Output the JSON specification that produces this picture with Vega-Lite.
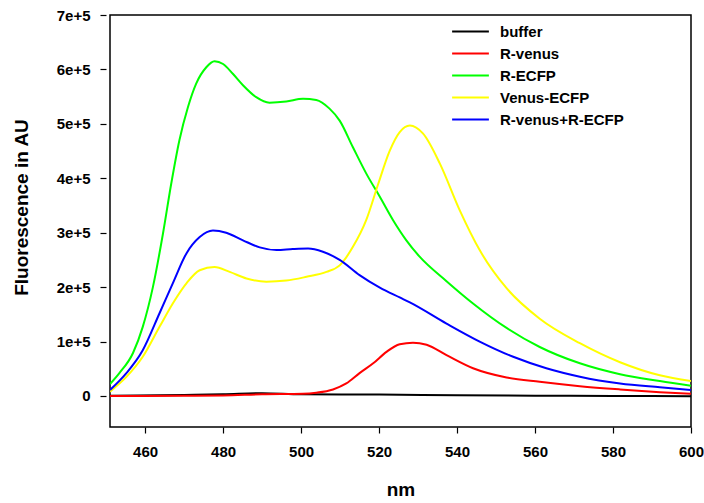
{
  "$schema": "https://vega.github.io/schema/vega-lite/v6.json",
  "width": 581,
  "height": 412,
  "autosize": {"type": "none"},
  "padding": {"left": 110, "top": 15, "right": 13, "bottom": 76},
  "background": "white",
  "config": {
    "font": "Liberation Sans",
    "view": {"stroke": "black", "strokeWidth": 1.5},
    "axis": {
      "grid": false,
      "domain": false,
      "tickColor": "black",
      "tickWidth": 1.2,
      "tickSize": 6,
      "labelColor": "black",
      "labelFont": "Liberation Sans",
      "labelFontWeight": "bold",
      "labelFontSize": 15,
      "titleColor": "black",
      "titleFont": "Liberation Sans",
      "titleFontWeight": "bold",
      "titleFontSize": 19
    },
    "legend": {
      "labelFont": "Liberation Sans",
      "labelFontWeight": "bold",
      "labelFontSize": 15,
      "labelColor": "black"
    }
  },
  "data": {
    "values": [
      {"series": "buffer", "nm": 451, "v": 500},
      {"series": "buffer", "nm": 470, "v": 2000},
      {"series": "buffer", "nm": 480, "v": 3000},
      {"series": "buffer", "nm": 490, "v": 5000},
      {"series": "buffer", "nm": 500, "v": 3000},
      {"series": "buffer", "nm": 520, "v": 2500},
      {"series": "buffer", "nm": 540, "v": 1500},
      {"series": "buffer", "nm": 560, "v": 500},
      {"series": "buffer", "nm": 580, "v": 0},
      {"series": "buffer", "nm": 600, "v": -500},

      {"series": "R-venus", "nm": 451, "v": 0},
      {"series": "R-venus", "nm": 470, "v": 500},
      {"series": "R-venus", "nm": 480, "v": 1000},
      {"series": "R-venus", "nm": 490, "v": 3000},
      {"series": "R-venus", "nm": 500.5, "v": 4000},
      {"series": "R-venus", "nm": 503.9, "v": 6000},
      {"series": "R-venus", "nm": 508.2, "v": 12000},
      {"series": "R-venus", "nm": 511.6, "v": 23000},
      {"series": "R-venus", "nm": 515, "v": 42000},
      {"series": "R-venus", "nm": 518.5, "v": 60000},
      {"series": "R-venus", "nm": 521.9, "v": 81000},
      {"series": "R-venus", "nm": 525.3, "v": 95000},
      {"series": "R-venus", "nm": 528.7, "v": 98000},
      {"series": "R-venus", "nm": 532.2, "v": 94000},
      {"series": "R-venus", "nm": 537.3, "v": 75000},
      {"series": "R-venus", "nm": 544.1, "v": 51000},
      {"series": "R-venus", "nm": 552.7, "v": 34000},
      {"series": "R-venus", "nm": 561.2, "v": 26000},
      {"series": "R-venus", "nm": 571.5, "v": 18000},
      {"series": "R-venus", "nm": 581.8, "v": 12000},
      {"series": "R-venus", "nm": 592, "v": 7000},
      {"series": "R-venus", "nm": 600, "v": 4000},

      {"series": "R-ECFP", "nm": 451, "v": 22000},
      {"series": "R-ECFP", "nm": 453.4, "v": 42000},
      {"series": "R-ECFP", "nm": 456.9, "v": 79000},
      {"series": "R-ECFP", "nm": 459.4, "v": 127000},
      {"series": "R-ECFP", "nm": 462, "v": 200000},
      {"series": "R-ECFP", "nm": 464.6, "v": 299000},
      {"series": "R-ECFP", "nm": 466.7, "v": 390000},
      {"series": "R-ECFP", "nm": 468.8, "v": 470000},
      {"series": "R-ECFP", "nm": 471, "v": 531000},
      {"series": "R-ECFP", "nm": 473.1, "v": 574000},
      {"series": "R-ECFP", "nm": 475.7, "v": 604000},
      {"series": "R-ECFP", "nm": 477.8, "v": 615000},
      {"series": "R-ECFP", "nm": 480, "v": 610000},
      {"series": "R-ECFP", "nm": 482.5, "v": 592000},
      {"series": "R-ECFP", "nm": 485.1, "v": 571000},
      {"series": "R-ECFP", "nm": 488.5, "v": 549000},
      {"series": "R-ECFP", "nm": 491.9, "v": 539000},
      {"series": "R-ECFP", "nm": 496.2, "v": 541000},
      {"series": "R-ECFP", "nm": 500.5, "v": 546000},
      {"series": "R-ECFP", "nm": 503.9, "v": 544000},
      {"series": "R-ECFP", "nm": 507.3, "v": 528000},
      {"series": "R-ECFP", "nm": 509.9, "v": 506000},
      {"series": "R-ECFP", "nm": 513.3, "v": 457000},
      {"series": "R-ECFP", "nm": 516.7, "v": 409000},
      {"series": "R-ECFP", "nm": 520.2, "v": 366000},
      {"series": "R-ECFP", "nm": 523.6, "v": 323000},
      {"series": "R-ECFP", "nm": 527, "v": 286000},
      {"series": "R-ECFP", "nm": 530.4, "v": 256000},
      {"series": "R-ECFP", "nm": 537.3, "v": 211000},
      {"series": "R-ECFP", "nm": 544.1, "v": 170000},
      {"series": "R-ECFP", "nm": 552.7, "v": 125000},
      {"series": "R-ECFP", "nm": 561.2, "v": 90000},
      {"series": "R-ECFP", "nm": 571.5, "v": 60000},
      {"series": "R-ECFP", "nm": 581.8, "v": 40000},
      {"series": "R-ECFP", "nm": 592, "v": 27500},
      {"series": "R-ECFP", "nm": 600, "v": 19000},

      {"series": "Venus-ECFP", "nm": 451, "v": 8000},
      {"series": "Venus-ECFP", "nm": 455.2, "v": 35000},
      {"series": "Venus-ECFP", "nm": 459.4, "v": 72000},
      {"series": "Venus-ECFP", "nm": 463.7, "v": 127000},
      {"series": "Venus-ECFP", "nm": 467.1, "v": 170000},
      {"series": "Venus-ECFP", "nm": 470.6, "v": 207000},
      {"series": "Venus-ECFP", "nm": 474, "v": 231000},
      {"series": "Venus-ECFP", "nm": 477.8, "v": 237000},
      {"series": "Venus-ECFP", "nm": 481.7, "v": 228000},
      {"series": "Venus-ECFP", "nm": 486, "v": 216000},
      {"series": "Venus-ECFP", "nm": 491.1, "v": 210000},
      {"series": "Venus-ECFP", "nm": 496.2, "v": 212000},
      {"series": "Venus-ECFP", "nm": 501.4, "v": 219000},
      {"series": "Venus-ECFP", "nm": 506.5, "v": 228000},
      {"series": "Venus-ECFP", "nm": 509.9, "v": 240000},
      {"series": "Venus-ECFP", "nm": 513.3, "v": 274000},
      {"series": "Venus-ECFP", "nm": 516.7, "v": 323000},
      {"series": "Venus-ECFP", "nm": 519.8, "v": 390000},
      {"series": "Venus-ECFP", "nm": 522.7, "v": 450000},
      {"series": "Venus-ECFP", "nm": 525.3, "v": 485000},
      {"series": "Venus-ECFP", "nm": 527.9, "v": 497000},
      {"series": "Venus-ECFP", "nm": 531.3, "v": 482000},
      {"series": "Venus-ECFP", "nm": 535.6, "v": 427000},
      {"series": "Venus-ECFP", "nm": 540.7, "v": 341000},
      {"series": "Venus-ECFP", "nm": 545.8, "v": 268000},
      {"series": "Venus-ECFP", "nm": 552.7, "v": 198000},
      {"series": "Venus-ECFP", "nm": 561.2, "v": 142000},
      {"series": "Venus-ECFP", "nm": 571.5, "v": 97000},
      {"series": "Venus-ECFP", "nm": 581.8, "v": 62000},
      {"series": "Venus-ECFP", "nm": 592, "v": 38000},
      {"series": "Venus-ECFP", "nm": 600, "v": 27500},

      {"series": "R-venus+R-ECFP", "nm": 451, "v": 11000},
      {"series": "R-venus+R-ECFP", "nm": 455.2, "v": 42000},
      {"series": "R-venus+R-ECFP", "nm": 459.4, "v": 84000},
      {"series": "R-venus+R-ECFP", "nm": 463.7, "v": 152000},
      {"series": "R-venus+R-ECFP", "nm": 467.1, "v": 207000},
      {"series": "R-venus+R-ECFP", "nm": 470.6, "v": 262000},
      {"series": "R-venus+R-ECFP", "nm": 474, "v": 292000},
      {"series": "R-venus+R-ECFP", "nm": 477.4, "v": 304000},
      {"series": "R-venus+R-ECFP", "nm": 480.8, "v": 300000},
      {"series": "R-venus+R-ECFP", "nm": 485.1, "v": 286000},
      {"series": "R-venus+R-ECFP", "nm": 489.4, "v": 273000},
      {"series": "R-venus+R-ECFP", "nm": 493.7, "v": 268000},
      {"series": "R-venus+R-ECFP", "nm": 497.9, "v": 270000},
      {"series": "R-venus+R-ECFP", "nm": 501.8, "v": 271000},
      {"series": "R-venus+R-ECFP", "nm": 505.6, "v": 265000},
      {"series": "R-venus+R-ECFP", "nm": 509.9, "v": 250000},
      {"series": "R-venus+R-ECFP", "nm": 515, "v": 222000},
      {"series": "R-venus+R-ECFP", "nm": 520.2, "v": 199000},
      {"series": "R-venus+R-ECFP", "nm": 525.3, "v": 181000},
      {"series": "R-venus+R-ECFP", "nm": 527.9, "v": 172000},
      {"series": "R-venus+R-ECFP", "nm": 537.3, "v": 133000},
      {"series": "R-venus+R-ECFP", "nm": 545.8, "v": 100000},
      {"series": "R-venus+R-ECFP", "nm": 554.4, "v": 72000},
      {"series": "R-venus+R-ECFP", "nm": 562.9, "v": 51000},
      {"series": "R-venus+R-ECFP", "nm": 571.5, "v": 35500},
      {"series": "R-venus+R-ECFP", "nm": 581.8, "v": 23000},
      {"series": "R-venus+R-ECFP", "nm": 592, "v": 16000},
      {"series": "R-venus+R-ECFP", "nm": 600, "v": 11000}
    ]
  },
  "mark": {"type": "line", "interpolate": "monotone", "strokeWidth": 2, "clip": true},
  "encoding": {
    "x": {
      "field": "nm",
      "type": "quantitative",
      "scale": {"domain": [451, 600], "nice": false, "zero": false},
      "axis": {
        "title": "nm",
        "values": [460, 480, 500, 520, 540, 560, 580, 600],
        "labelPadding": 11,
        "titlePadding": 21,
        "labelFlush": false,
        "labelOverlap": false
      }
    },
    "y": {
      "field": "v",
      "type": "quantitative",
      "scale": {"domain": [-57000, 700000], "nice": false, "zero": false},
      "axis": {
        "title": "Fluorescence in AU",
        "values": [0, 100000, 200000, 300000, 400000, 500000, 600000, 700000],
        "labelExpr": "datum.value == 0 ? '0' : (datum.value / 100000) + 'e+5'",
        "offset": 4,
        "labelPadding": 10,
        "titlePadding": 25,
        "titleY": 192,
        "labelFlush": false,
        "labelOverlap": false
      }
    },
    "color": {
      "field": "series",
      "type": "nominal",
      "scale": {
        "domain": ["buffer", "R-venus", "R-ECFP", "Venus-ECFP", "R-venus+R-ECFP"],
        "range": ["#000000", "#ff0000", "#00ff00", "#ffff00", "#0000ff"]
      },
      "legend": {
        "title": null,
        "orient": "none",
        "legendX": 352,
        "legendY": 8,
        "padding": 0,
        "symbolType": "M-2.6,0H2.6",
        "symbolSize": 200,
        "symbolStrokeWidth": 2,
        "labelOffset": 21,
        "rowPadding": 5
      }
    }
  }
}
